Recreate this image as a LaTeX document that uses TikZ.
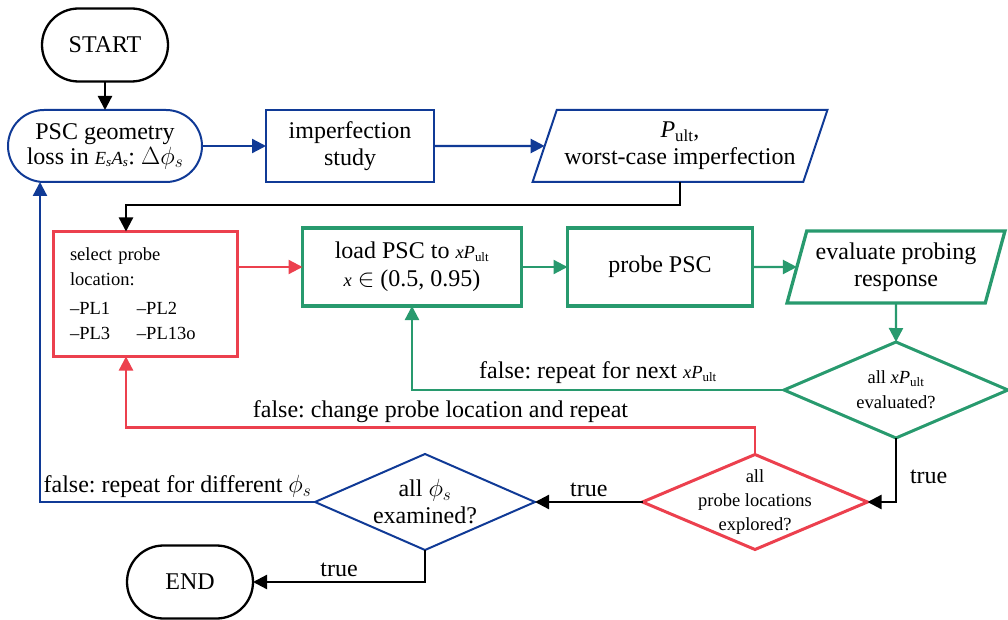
\documentclass[tikz,border=0pt]{standalone}
\usepackage{fontspec}
\setmainfont{Liberation Serif}
\usetikzlibrary{arrows.meta,shapes.geometric,shapes.misc}

\definecolor{pblue}{RGB}{16,58,150}
\definecolor{pred}{RGB}{236,64,78}
\definecolor{pgreen}{RGB}{40,154,110}

\newcommand{\smallfont}{\fontsize{18.5}{25}\selectfont}
\newcommand{\Pult}{\textit{P}\textsubscript{ult}}
\newcommand{\xPult}{{\smallfont\textit{x}\Pult}}
\frenchspacing

\begin{document}
\begin{tikzpicture}[x=1pt,y=-1pt,inner sep=0pt,outer sep=0pt,line width=2.3pt,
font=\fontsize{24}{27}\selectfont,
>={Triangle[length=14pt,width=14pt]},
term/.style={draw,rounded rectangle,minimum width=126pt,minimum height=73pt},
procblock/.style={draw,rectangle,minimum height=72pt,align=center},
iobox/.style={draw,trapezium,trapezium stretches=true,minimum height=72pt,align=center,inner sep=2pt},
decision/.style={draw,diamond,inner sep=0pt}]
\useasboundingbox (0,0) rectangle (1008,620);

% terminals
\draw (105,45) node[term] (start) {START};
\draw (190,582) node[term] (end) {END};

% geometry loss and imperfection study
\draw (105,146) node[term,pblue,line width=2pt,minimum width=194pt,minimum height=72pt,align=center,text=black] (psc)
  {PSC geometry\\[-2pt]loss in {\smallfont\textit{E\textsubscript{s}A\textsubscript{s}}}: $\Delta\phi_s$};
\draw (350,146) node[procblock,pblue,line width=2pt,minimum width=168pt,text=black] (imp) {imperfection\\study};
\draw (680,146) node[iobox,pblue,line width=2pt,minimum width=296pt,trapezium left angle=66,trapezium right angle=114,text=black] (pult)
  {\Pult,\\worst-case imperfection};

% probing loop
\draw (145,294) node[draw,rectangle,pred,line width=3pt,minimum width=184pt,minimum height=125pt,text=black,
  text width=150pt,align=left,font=\smallfont] (sel)
  {select probe\\location:\\[4pt]\makebox[67pt][l]{--PL1}--PL2\\\makebox[67pt][l]{--PL3}--PL13o};
\draw (412,267) node[procblock,pgreen,line width=3.3pt,minimum width=219pt,minimum height=78pt,text=black] (load)
  {load PSC to \xPult\\[1pt]{\smallfont\textit{x}} $\in$ (0.5, 0.95)};
\draw (660,267) node[procblock,pgreen,line width=3.3pt,minimum width=185pt,minimum height=78pt,text=black] (probe) {probe PSC};
\draw (896,267) node[iobox,pgreen,line width=3.3pt,minimum width=218pt,trapezium left angle=71,trapezium right angle=109,text=black] (eval)
  {evaluate probing\\response};

% decisions (text set as centre labels so the diamonds keep their size)
\draw (896,390) node[decision,pgreen,line width=3pt,minimum width=224pt,minimum height=96pt,
  label={[align=center,text=black,font=\smallfont]center:all \xPult\\evaluated?}] (chkx) {};
\draw (755,502) node[decision,pred,line width=3pt,minimum width=225pt,minimum height=95pt,
  label={[align=center,text=black,font=\fontsize{18.5}{24}\selectfont]center:all\\probe locations\\explored?}] (chkloc) {};
\draw (425,502) node[decision,pblue,line width=2pt,minimum width=220pt,minimum height=96pt,
  label={[align=center,text=black]center:all $\phi_s$\\examined?}] (chkphi) {};

% connectors
\draw[->] (start.south) -- (psc.north);
\draw[->,pblue] (psc.east) -- (imp.west);
\draw[->,pblue] (imp.east) -- (pult.west);
\draw[->] (pult.south) -- ++(0,23) -| ([xshift=-19pt]sel.north);
\draw[->,pred] (sel.east |- load.west) -- (load.west);
\draw[->,pgreen] (load.east) -- (probe.west);
\draw[->,pgreen] (probe.east) -- (eval.west);
\draw[->,pgreen] (eval.south) -- (chkx.north);
\draw[->,pgreen] (chkx.west) -| (load.south) node[pos=0.25,above=6pt,text=black] {false: repeat for next \xPult};
\draw[->] (chkx.south) |- (chkloc.east) node[pos=0.3,right=14pt] {true};
\draw[->,pred] (chkloc.north) -- ++(0,-27) -| ([xshift=-19pt]sel.south) node[pos=0.25,above=5pt,text=black] {false: change probe location and repeat};
\draw[->] (chkloc.west) -- (chkphi.east) node[midway,above=5pt] {true};
\draw[->,pblue] (chkphi.west) -| ([xshift=-65pt]psc.south) node[pos=0.25,above=4pt,text=black] {false: repeat for different $\phi_s$};
\draw[->] (chkphi.south) |- (end.east) node[pos=0.75,above=5pt] {true};
\end{tikzpicture}
\end{document}
